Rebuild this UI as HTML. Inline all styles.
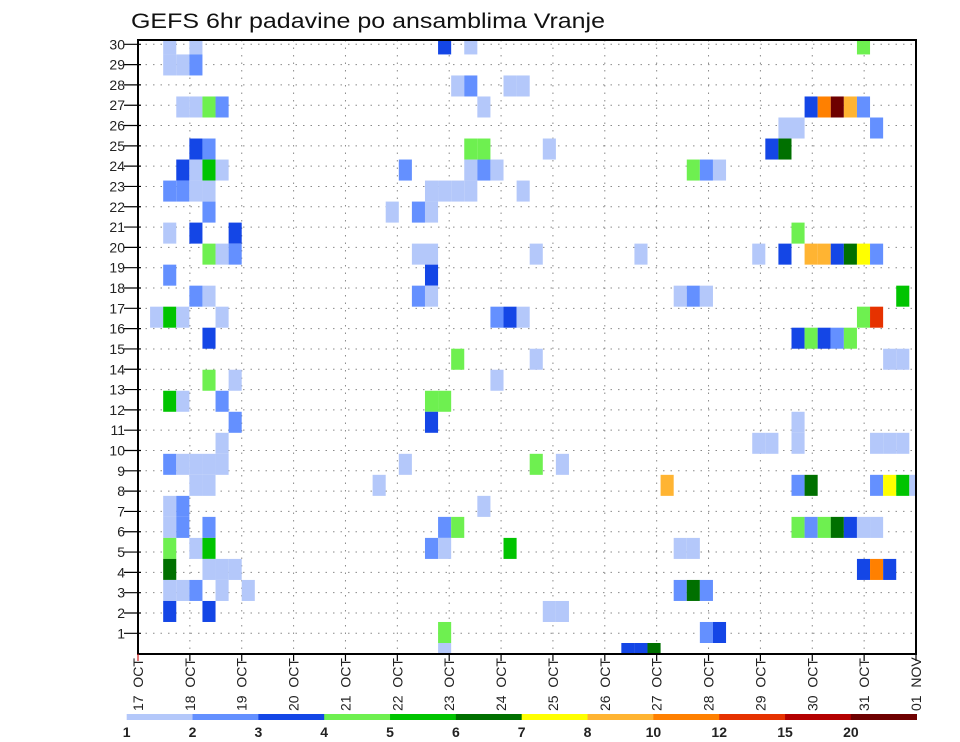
<!DOCTYPE html>
<html><head><meta charset="utf-8"><title>GEFS 6hr padavine po ansamblima Vranje</title>
<style>
html,body{margin:0;padding:0;background:#fff;}
svg{display:block;font-family:"Liberation Sans",sans-serif;}
</style></head>
<body>
<svg id="chart" width="960" height="742" viewBox="0 0 960 742" xmlns="http://www.w3.org/2000/svg">
<rect x="0" y="0" width="960" height="742" fill="#fff"/>
<text x="131" y="28" font-size="21" fill="#111" textLength="474" lengthAdjust="spacingAndGlyphs">GEFS 6hr padavine po ansamblima Vranje</text>
<g id="grid"></g>
<g id="cells"></g>
<g id="axes"></g>
<g id="legend"></g>
</svg>
<script>
// ---- data ----
const dayLabels = ["17 OCT","18 OCT","19 OCT","20 OCT","21 OCT","22 OCT","23 OCT","24 OCT","25 OCT","26 OCT","27 OCT","28 OCT","29 OCT","30 OCT","31 OCT","01 NOV"];
const memberTicks = [1,2,3,4,5,6,7,8,9,10,11,12,13,14,15,16,17,18,19,20,21,22,23,24,25,26,27,28,29,30];
const levelBounds = [1,2,3,4,5,6,7,8,10,12,15,20];
const levelColors = ["#b4c8fa","#6490ff","#1446e6","#6ef050","#00c400","#007000","#ffff00","#ffb432","#ff8000","#e63200","#b40000","#6e0000"];
const legendLabels = ["1","2","3","4","5","6","7","8","10","12","15","20"];
// cells: time step (6h), ensemble row bin, precipitation value (mm)
const cellStep = [
 2,4,23,25,55,
 2,3,4,
 24,25,28,29,
 3,4,5,6,26,51,52,53,54,55,
 49,50,56,
 4,5,25,26,31,48,49,
 3,4,5,6,20,25,26,27,42,43,44,
 2,3,4,5,22,23,24,25,29,
 5,19,21,22,
 2,4,7,50,
 5,6,7,21,22,30,38,47,49,51,52,53,54,55,56,
 2,22,
 4,5,21,22,41,42,43,58,
 1,2,3,6,27,28,29,55,56,
 5,50,51,52,53,54,
 24,30,57,58,
 5,7,27,
 2,3,6,22,23,
 7,22,50,
 6,47,48,50,56,57,58,
 2,3,4,5,6,20,30,32,
 4,5,18,40,50,51,56,57,58,59,
 2,3,26,
 2,3,5,23,24,50,51,52,53,54,55,56,
 2,4,5,22,23,28,41,42,
 2,5,6,7,55,56,57,
 2,3,4,6,8,41,42,43,
 2,5,31,32,
 23,43,44,
 23,37,38,39
];
const cellRow = [
 29,29,29,29,29,
 28,28,28,
 27,27,27,27,
 26,26,26,26,26,26,26,26,26,26,
 25,25,25,
 24,24,24,24,24,24,24,
 23,23,23,23,23,23,23,23,23,23,23,
 22,22,22,22,22,22,22,22,22,
 21,21,21,21,
 20,20,20,20,
 19,19,19,19,19,19,19,19,19,19,19,19,19,19,19,
 18,18,
 17,17,17,17,17,17,17,17,
 16,16,16,16,16,16,16,16,16,
 15,15,15,15,15,15,
 14,14,14,14,
 13,13,13,
 12,12,12,12,12,
 11,11,11,
 10,10,10,10,10,10,10,
 9,9,9,9,9,9,9,9,
 8,8,8,8,8,8,8,8,8,8,
 7,7,7,
 6,6,6,6,6,6,6,6,6,6,6,6,
 5,5,5,5,5,5,5,5,
 4,4,4,4,4,4,4,
 3,3,3,3,3,3,3,3,
 2,2,2,2,
 1,1,1,
 0,0,0,0
];
const cellValue = [
 1.5,1.5,3.5,1.5,4.5,
 1.5,1.5,2.5,
 1.5,2.5,1.5,1.5,
 1.5,1.5,4.5,2.5,1.5,3.5,11,22,9,2.5,
 1.5,1.5,2.5,
 3.5,2.5,4.5,4.5,1.5,3.5,6.5,
 3.5,1.5,5.5,1.5,2.5,1.5,2.5,1.5,4.5,2.5,1.5,
 2.5,2.5,1.5,1.5,1.5,1.5,1.5,1.5,1.5,
 2.5,1.5,2.5,1.5,
 1.5,3.5,3.5,4.5,
 4.5,1.5,2.5,1.5,1.5,1.5,1.5,1.5,3.5,9,9,3.5,6.5,7.5,2.5,
 2.5,3.5,
 2.5,1.5,2.5,1.5,1.5,2.5,1.5,5.5,
 1.5,5.5,1.5,1.5,2.5,3.5,1.5,4.5,13,
 3.5,3.5,4.5,3.5,2.5,4.5,
 4.5,1.5,1.5,1.5,
 4.5,1.5,1.5,
 5.5,1.5,2.5,4.5,4.5,
 2.5,3.5,1.5,
 1.5,1.5,1.5,1.5,1.5,1.5,1.5,
 2.5,1.5,1.5,1.5,1.5,1.5,4.5,1.5,
 1.5,1.5,1.5,9,2.5,6.5,2.5,7.5,5.5,1.5,
 1.5,2.5,1.5,
 1.5,2.5,2.5,2.5,4.5,4.5,2.5,4.5,6.5,3.5,1.5,1.5,
 4.5,1.5,5.5,2.5,1.5,5.5,1.5,1.5,
 6.5,1.5,1.5,1.5,3.5,11,3.5,
 1.5,1.5,2.5,1.5,1.5,2.5,6.5,2.5,
 3.5,3.5,1.5,1.5,
 4.5,2.5,3.5,
 1.5,3.5,3.5,6.5
];

// ---- geometry ----
const NS = "http://www.w3.org/2000/svg";
const PL = 138, PR = 916, PT = 40, PB = 654;
const dayW = (PR - PL) / 15;
const stepW = 13.09;
const rowH = 21.02;
function xDay(d){ return PL + d * dayW; }
function xStep(s){ return 137 + s * stepW; }
function yBinTop(b){ return 643 - b * rowH; }
function yMember(m){ return 653.6 - m * ((633 - 44) / 29); }
function colorFor(v){
  let idx = 0;
  for (let i = 0; i < levelBounds.length; i++){ if (v >= levelBounds[i]) idx = i; }
  return levelColors[idx];
}
function mk(tag, attrs, parent){
  const e = document.createElementNS(NS, tag);
  for (const k in attrs) e.setAttribute(k, attrs[k]);
  parent.appendChild(e);
  return e;
}

// ---- grid ----
const grid = document.getElementById("grid");
memberTicks.forEach(function(m){
  const y = yMember(m);
  const l = mk("line", {x1:PL, x2:PR, y1:y, y2:y, stroke:"#8a8a8a", "stroke-width":1, "stroke-dasharray":"1.5,6"}, grid);
  
  
});
for (let d = 1; d < 15; d++){
  const x = xDay(d);
  const l = mk("line", {x1:x, x2:x, y1:PT, y2:PB, stroke:"#8a8a8a", "stroke-width":1, "stroke-dasharray":"1.5,6"}, grid);
  
  
}

// ---- cells ----
const cells = document.getElementById("cells");
const clip = mk("clipPath", {id:"plotclip"}, document.getElementById("chart"));
mk("rect", {x:PL, y:PT, width:PR-PL, height:PB-PT}, clip);
cells.setAttribute("clip-path", "url(#plotclip)");
for (let i = 0; i < cellStep.length; i++){
  const r = mk("rect", {
    x: xStep(cellStep[i]).toFixed(2), y: yBinTop(cellRow[i]).toFixed(2),
    width: stepW.toFixed(2), height: rowH.toFixed(2),
    fill: colorFor(cellValue[i])
  }, cells);
  
  
}

// ---- axes ----
const axes = document.getElementById("axes");
const frame = mk("rect", {x:PL, y:PT, width:PR-PL, height:PB-PT, fill:"none", stroke:"#000", "stroke-width":2}, axes);


memberTicks.forEach(function(m){
  const y = yMember(m);
  const t = mk("line", {x1:PL-14, x2:PL+3, y1:y, y2:y, stroke:"#000", "stroke-width":1.2}, axes);
  
  
  const lb = mk("text", {x:PL-13, y:y+5, "font-size":14, "text-anchor":"end", fill:"#222"}, axes);
  lb.textContent = String(m);
  
  
});
dayLabels.forEach(function(lbl, d){
  const x = xDay(d);
  const t = mk("line", {x1:x, x2:x, y1:PB, y2:PB+7, stroke: d === 0 ? "#d02020" : "#000", "stroke-width":1.2}, axes);
  
  
  const tx = mk("text", {x:0, y:0, "font-size":14, fill:"#222", transform:"translate(" + (x + 5) + ",711) rotate(-90)"}, axes);
  tx.textContent = lbl.replace(" ", "\u00a0\u00a0");
  
  
});

// ---- legend ----
const legend = document.getElementById("legend");
const LX = 126.7, LW = (916.7 - 126.7) / levelColors.length;
levelColors.forEach(function(c, i){
  const r = mk("rect", {x:(LX + i*LW).toFixed(2), y:714, width:(LW+0.3).toFixed(2), height:6, fill:c}, legend);
  
  
});
legendLabels.forEach(function(s, i){
  const t = mk("text", {x:(LX + i*LW).toFixed(2), y:737, "font-size":14, "font-weight":"bold", "text-anchor":"middle", fill:"#222"}, legend);
  t.textContent = s;
  
  
});
</script>
</body></html>
